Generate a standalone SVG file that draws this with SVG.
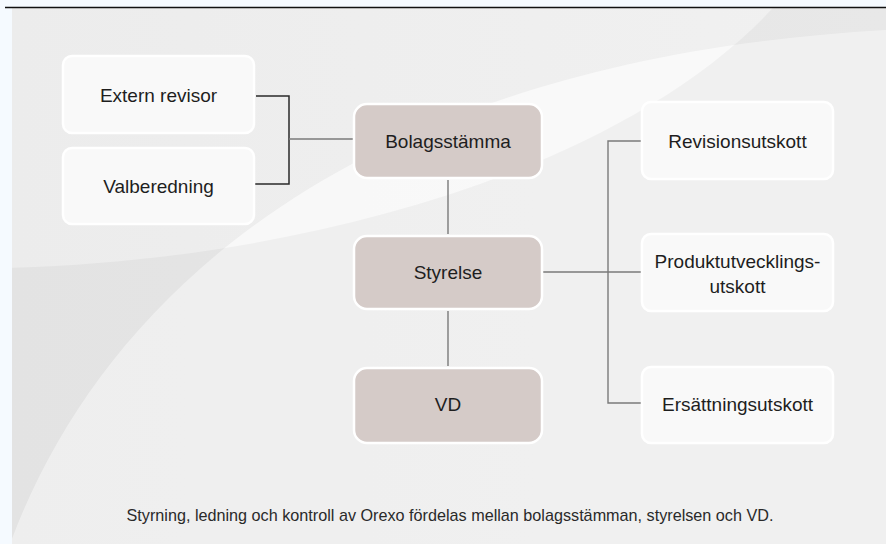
<svg xmlns="http://www.w3.org/2000/svg" width="886" height="544" viewBox="0 0 886 544">
<style>
.lbl{font-family:"Liberation Sans",Arial,sans-serif;font-size:19px;fill:#1e1e1e;text-anchor:middle}
.cap{font-family:"Liberation Sans",Arial,sans-serif;font-size:16.2px;fill:#2a2a2a;text-anchor:middle}
.wbox{fill:#f9f9f9;stroke:#ffffff;stroke-width:2.5}
.bbox{fill:#d5cbc8;stroke:#ffffff;stroke-width:2.5}
.dark{fill:none;stroke:#2a2a2a;stroke-width:1.5}
.gray{fill:none;stroke:#7a7a7a;stroke-width:1.4}
</style>
<defs>
<clipPath id="panel"><rect x="12" y="8" width="874" height="536"/></clipPath>
<linearGradient id="bg" x1="0" y1="0" x2="1" y2="0">
<stop offset="0" stop-color="#ececec"/>
<stop offset="1" stop-color="#f1f1f1"/>
</linearGradient>
</defs>
<rect x="0" y="0" width="886" height="544" fill="#f5faff"/>
<g clip-path="url(#panel)">
<rect x="12" y="8" width="874" height="536" fill="url(#bg)"/>
<path d="M10,560 L10,544 C100,300 350,60 886,30 L900,30 L900,560 Z" fill="#ffffff" fill-opacity="0.6"/>
<path d="M0,268 C300,262 630,170 780,0 L900,0 L900,560 L0,560 Z" fill="#000000" fill-opacity="0.035"/>
</g>
<line x1="5" y1="7.5" x2="886" y2="7.5" stroke="#111111" stroke-width="1.3"/>
<g id="connectors">
<path class="dark" d="M256,96 H289 V184 H255"/>
<path class="gray" d="M289,139 H353"/>
<path class="gray" d="M448,180 V234"/>
<path class="gray" d="M448,311 V366"/>
<path class="gray" d="M543,272 H641"/>
<path class="gray" d="M641,141 H608 V403 H641"/>
</g>
<g id="extern-revisor"><rect class="wbox" x="63" y="56" width="191" height="77" rx="9"/><text class="lbl" x="158.5" y="102">Extern revisor</text></g>
<g id="valberedning"><rect class="wbox" x="63" y="148" width="191" height="76" rx="9"/><text class="lbl" x="158.5" y="193">Valberedning</text></g>
<g id="bolagsstamma"><rect class="bbox" x="354" y="104" width="188" height="74" rx="13"/><text class="lbl" x="448" y="148">Bolagsstämma</text></g>
<g id="styrelse"><rect class="bbox" x="354" y="236" width="188" height="73" rx="13"/><text class="lbl" x="448" y="279">Styrelse</text></g>
<g id="vd"><rect class="bbox" x="354" y="368" width="188" height="75" rx="13"/><text class="lbl" x="448" y="411">VD</text></g>
<g id="revisionsutskott"><rect class="wbox" x="642" y="102" width="191" height="77" rx="9"/><text class="lbl" x="737.5" y="148">Revisionsutskott</text></g>
<g id="produktutvecklingsutskott"><rect class="wbox" x="642" y="234" width="191" height="77" rx="9"/><text class="lbl" x="737.5" y="268">Produktutvecklings-</text><text class="lbl" x="737.5" y="293">utskott</text></g>
<g id="ersattningsutskott"><rect class="wbox" x="642" y="367" width="191" height="76" rx="9"/><text class="lbl" x="737.5" y="411">Ersättningsutskott</text></g>
<text class="cap" x="450" y="521">Styrning, ledning och kontroll av Orexo fördelas mellan bolagsstämman, styrelsen och VD.</text>
</svg>
